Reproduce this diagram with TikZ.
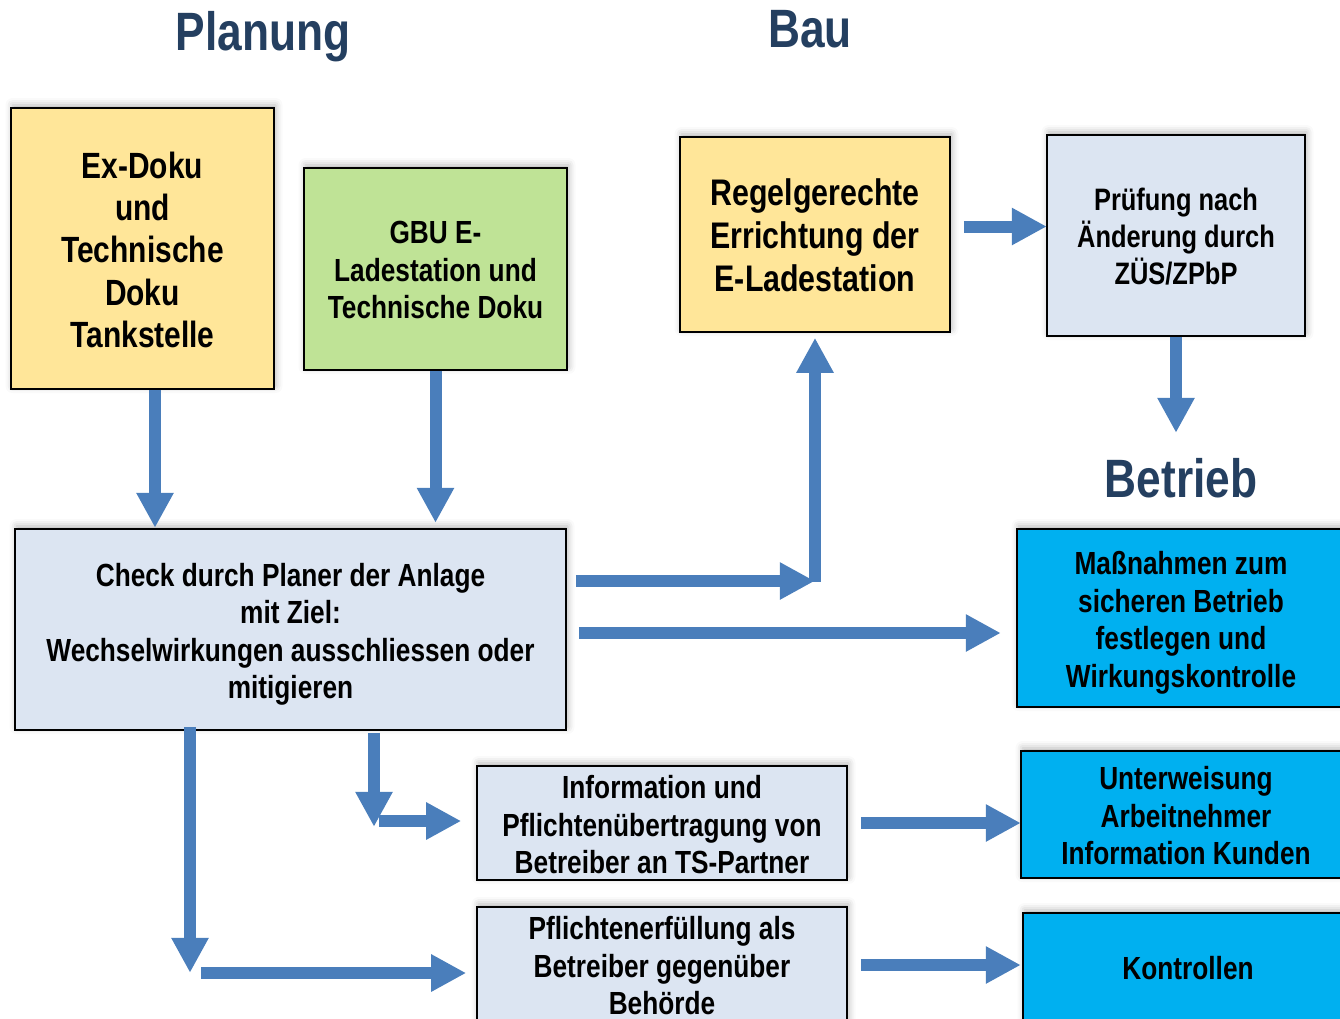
\documentclass[tikz,border=0pt]{standalone}
\usepackage{fontspec}
\newfontfamily\nar{Liberation Sans}[FakeStretch=0.82]
\usetikzlibrary{arrows.meta,shadows.blur}
\definecolor{cyellow}{HTML}{FFE699}
\definecolor{cgreen}{HTML}{BFE396}
\definecolor{cpale}{HTML}{DCE5F2}
\definecolor{ccyan}{HTML}{00B0F0}
\definecolor{carrow}{HTML}{4A7EBB}
\definecolor{ctitle}{HTML}{243F60}
\newcommand{\lowr}[1]{\rule{0pt}{#1pt}}
\begin{document}
\begin{tikzpicture}[x=1pt,y=-1pt,
  box/.style={draw=black, line width=1.6pt, inner sep=0pt, align=center,
     font=\nar\bfseries\fontsize{32}{37.5}\selectfont,
     blur shadow={shadow xshift=1.5pt, shadow yshift=3pt, shadow blur radius=7pt, shadow opacity=30}},
  bigbox/.style={box, font=\nar\bfseries\fontsize{36.5}{42.3}\selectfont},
  title/.style={font=\nar\bfseries\fontsize{54}{60}\selectfont, text=ctitle, inner sep=0pt, anchor=base},
  fat/.style={draw=carrow, line width=12pt, -{Triangle[width=35pt,length=35pt]}},
]
\useasboundingbox (0,0) rectangle (1340,1018);
\clip (0,0) rectangle (1340,1018);

% titles
\node[title] (planung) at (263,50) {Planung};
\node[title] (bau) at (810,47) {Bau};
\node[title] (betrieb) at (1181,497) {Betrieb};

% boxes
\node[bigbox, fill=cyellow, minimum width=263pt, minimum height=281pt] (exdoku) at (142.5,248.5)
  {\lowr{29}Ex-Doku\\und\\Technische\\Doku\\Tankstelle};
\node[box, fill=cgreen, minimum width=263pt, minimum height=202pt] (gbu) at (435.5,269)
  {\lowr{25}GBU E-\\Ladestation und\\Technische Doku};
\node[box, fill=cpale, minimum width=551pt, minimum height=201pt] (check) at (290.5,629.5)
  {\lowr{33}Check durch Planer der Anlage\\mit Ziel:\\Wechselwirkungen ausschliessen oder\\mitigieren};
\node[box, fill=cyellow, minimum width=270pt, minimum height=195pt,
      font=\nar\bfseries\fontsize{37}{43}\selectfont] (regel) at (815,234.5)
  {\lowr{28}Regelgerechte\\Errichtung der\\E-Ladestation};
\node[box, fill=cpale, minimum width=258pt, minimum height=201pt,
      font=\nar\bfseries\fontsize{31}{37}\selectfont] (pruef) at (1176,235.5)
  {\lowr{25}Prüfung nach\\Änderung durch\\ZÜS/ZPbP};
\node[box, fill=ccyan, minimum width=328pt, minimum height=178pt] (massn) at (1181,618)
  {\lowr{33}Maßnahmen zum\\sicheren Betrieb\\festlegen und\\Wirkungskontrolle};
\node[box, fill=cpale, minimum width=370pt, minimum height=114pt] (info) at (662,823)
  {\lowr{27}Information und\\Pflichtenübertragung von\\Betreiber an TS-Partner};
\node[box, fill=cpale, minimum width=370pt, minimum height=118pt] (pflicht) at (662,966)
  {Pflichtenerfüllung als\\Betreiber gegenüber\\Behörde};
\node[box, fill=ccyan, minimum width=330pt, minimum height=127pt] (unter) at (1186,814.5)
  {\lowr{26}Unterweisung\\Arbeitnehmer\\Information Kunden};
\node[box, fill=ccyan, minimum width=330pt, minimum height=110pt] (kontr) at (1188,968)
  {Kontrollen};

% arrows
\draw[fat] ([xshift=12.5pt]exdoku.south) -- ++(0,138);
\draw[fat] (gbu.south) -- ++(0,152);
\draw[fat] ([xshift=9pt,yshift=48.5pt]check.east) -- ++(239,0) coordinate (bend1);
\draw[fat] ([yshift=-1pt]regel.south |- bend1) -- ([yshift=-5pt]regel.south);
\draw[fat] ([xshift=12pt,yshift=-3.5pt]check.east) -- ++(422,0);
\draw[fat] ([xshift=13pt,yshift=8pt]regel.east) -- ++(83,0);
\draw[fat] (pruef.south) -- ++(0,96);
\draw[fat] ([xshift=83.5pt,yshift=-2pt]check.south) -- ++(0,94);
\draw[fat] ([xshift=-97pt,yshift=2pt]info.west) -- ([xshift=-15pt,yshift=2pt]info.west);
\draw[fat] ([xshift=-100.5pt,yshift=4pt]check.south) -- ++(0,246);
\draw[fat] ([xshift=-275pt,yshift=-7pt]pflicht.west) -- ([xshift=-10pt,yshift=-7pt]pflicht.west);
\draw[fat] ([xshift=13pt]info.east) -- ++(160,0);
\draw[fat] ([xshift=13pt,yshift=1pt]pflicht.east) -- ++(160,0);
\end{tikzpicture}
\end{document}
